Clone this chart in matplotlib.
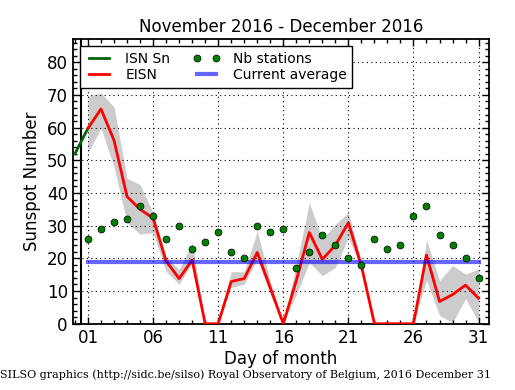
import matplotlib
matplotlib.use("Agg")
import matplotlib.pyplot as plt
from matplotlib.ticker import MultipleLocator, FixedLocator

days = list(range(1, 32))
eisn = [59.8, 65.7, 56.1, 38.9, 35.0, 32.3, 19.2, 13.8, 19.5, 0, 0, 12.9, 13.8, 21.8, 11.0, 0,
        13.2, 27.9, 19.7, 24.0, 30.9, 17.7, 0, 0, 0, 0, 21.0, 6.8, 8.9, 11.8, 7.8]
eisn_upper = [69.6, 70.6, 66.3, 44.5, 42.6, 34.0, 20.5, 16.5, 24.8, 0, 0, 15.9, 15.9, 28.4, 13.0, 0,
              18.0, 37.0, 25.9, 30.4, 34.0, 18.7, 0, 0, 0, 0, 25.7, 13.1, 17.8, 15.2, 16.7]
eisn_lower = [52.3, 59.9, 48.0, 31.0, 27.4, 27.9, 16.0, 12.1, 18.5, 0, 0, 11.1, 12.1, 19.7, 9.0, 0,
              9.0, 18.7, 14.7, 17.2, 26.4, 16.7, 0, 0, 0, 0, 13.3, 2.5, 0.3, 7.7, 0.5]
nb_stations = [26, 29, 31, 32, 36, 33, 26, 30, 23, 25, 28, 22, 20, 30, 28, 29, 17, 22, 27, 24,
               20, 18, 26, 23, 24, 33, 36, 27, 24, 20, 14]
isn_days = [0, 1]
isn_values = [52.0, 59.8]
current_average = 19.0
xtick_days = [1, 6, 11, 16, 21, 26, 31]
xtick_labels = ["01", "06", "11", "16", "21", "26", "31"]

fig = plt.figure(figsize=(5.15, 3.9), dpi=100)
ax = fig.add_axes([0.141, 0.170, 0.809, 0.729])

ax.fill_between(days, eisn_lower, eisn_upper, color="#cccccc", linewidth=0, zorder=1)
ax.axvline(0.5, color="black", linewidth=1.5, zorder=2)
ax.plot(isn_days, isn_values, color="#006400", linewidth=2, label="ISN Sn", zorder=3)
ax.plot(days, eisn, color="red", linewidth=2, label="EISN", zorder=3)
ax.plot(days, nb_stations, linestyle="none", marker="o", markersize=5,
        markerfacecolor="green", markeredgecolor="black", markeredgewidth=0.5,
        label="Nb stations", zorder=4)
ax.plot([days[0], days[-1]], [current_average, current_average], color="blue", alpha=0.6,
        linewidth=3, label="Current average", zorder=3)

ax.set_xlim(-0.18, 31.82)
ax.set_ylim(0, 87)
ax.xaxis.set_major_locator(FixedLocator(xtick_days))
ax.set_xticklabels(xtick_labels)
ax.xaxis.set_minor_locator(MultipleLocator(1))
ax.yaxis.set_major_locator(MultipleLocator(10))
ax.yaxis.set_minor_locator(MultipleLocator(2))
ax.tick_params(which="both", direction="in", top=True, right=True, labelsize=12)
ax.tick_params(which="major", length=5, width=1)
ax.tick_params(which="minor", length=3, width=1)
ax.tick_params(axis="x", which="major", pad=4)
for s in ax.spines.values():
    s.set_linewidth(1.3)
ax.grid(True, which="major", linestyle=(0, (1, 3)), color="black", linewidth=0.8)
ax.set_axisbelow(False)

ax.set_title("November 2016 - December 2016", fontsize=12, pad=5)
ax.set_xlabel("Day of month", fontsize=12, labelpad=2)
ax.set_ylabel("Sunspot Number", fontsize=12)

leg = ax.legend(loc="upper left", ncol=2, numpoints=2, fontsize=10, fancybox=False,
                framealpha=1, edgecolor="black", borderaxespad=0.5, handlelength=2.0,
                handletextpad=0.9, columnspacing=1.6, labelspacing=0.15, borderpad=0.4)
leg.get_frame().set_linewidth(1.0)

fig.text(0.0, 0.040, "SILSO graphics (http://sidc.be/silso) Royal Observatory of Belgium, 2016 December 31",
         family="DejaVu Serif", fontsize=8.0, ha="left", va="center")

fig.savefig("out.png", dpi=100)
